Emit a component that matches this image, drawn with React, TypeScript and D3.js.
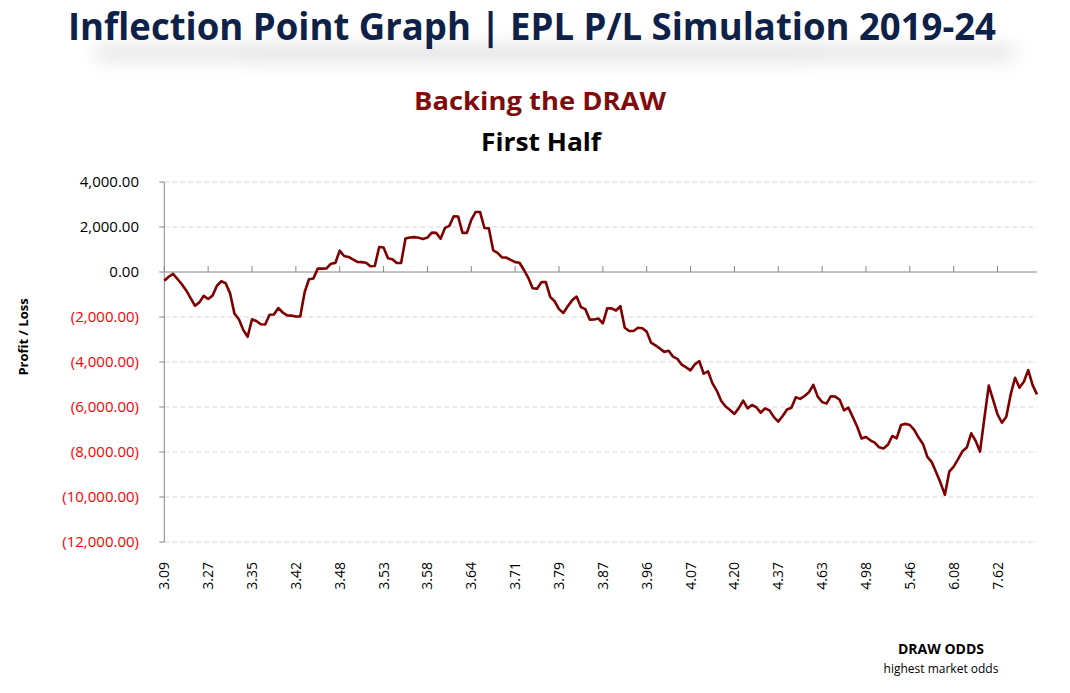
import React from "react";
import * as d3 from "d3";

const tickLabels = ["3.09","3.27","3.35","3.42","3.48","3.53","3.58","3.64","3.71","3.79","3.87","3.96","4.07","4.20","4.37","4.63","4.98","5.46","6.08","7.62"];
const tickEvery = 10;

const plValues = [
  -390,-210,-80,-310,-545,-820,-1165,-1500,-1350,-1060,
  -1200,-1050,-610,-410,-500,-950,-1850,-2100,-2570,-2880,
  -2100,-2180,-2320,-2330,-1900,-1890,-1600,-1800,-1930,-1940,
  -1975,-1980,-900,-320,-290,150,150,160,370,400,
  950,710,670,560,445,440,410,255,270,1110,
  1090,610,570,400,400,1490,1530,1550,1520,1470,
  1530,1750,1740,1480,1960,2050,2475,2470,1740,1740,
  2320,2670,2670,1955,1940,965,850,650,640,540,
  440,410,90,-260,-720,-740,-450,-445,-1110,-1300,
  -1650,-1820,-1520,-1260,-1090,-1560,-1650,-2115,-2110,-2070,
  -2280,-1615,-1615,-1710,-1520,-2480,-2620,-2620,-2480,-2500,
  -2650,-3140,-3260,-3400,-3550,-3500,-3760,-3860,-4120,-4240,
  -4370,-4100,-3960,-4520,-4420,-4950,-5280,-5730,-5980,-6130,
  -6310,-6050,-5720,-6060,-5910,-6010,-6250,-6060,-6150,-6450,
  -6650,-6400,-6110,-6030,-5570,-5640,-5510,-5340,-5020,-5540,
  -5780,-5850,-5520,-5540,-5680,-6150,-6030,-6450,-6880,-7400,
  -7330,-7480,-7580,-7790,-7840,-7680,-7290,-7390,-6800,-6750,
  -6800,-7020,-7360,-7640,-8220,-8450,-8900,-9370,-9900,-8870,
  -8650,-8320,-7970,-7800,-7170,-7500,-7980,-6500,-5050,-5680,
  -6330,-6700,-6430,-5440,-4700,-5140,-4880,-4360,-5030,-5440
];

const yMin = -12000;
const yMax = 4000;
const yStep = 2000;

const titleText = "Inflection Point Graph | EPL P/L Simulation 2019-24";
const subTitle1 = "Backing the DRAW";
const subTitle2 = "First Half";
const yAxisTitle = "Profit / Loss";
const xAxisTitle = "DRAW ODDS";
const xAxisSub = "highest market odds";

export default function App() {
  const W = 1070, H = 693;
  const left = 164.3, right = 1037, top = 182, bottom = 542;
  const x = d3.scaleLinear().domain([0, plValues.length - 1]).range([left, right]);
  const y = d3.scaleLinear().domain([yMin, yMax]).range([bottom, top]);
  const yTicks = d3.range(yMin, yMax + 1, yStep);
  const lineGen = d3.line<number>().x((_, i) => x(i)).y((d) => y(d));
  const f = d3.format(",.2f");
  const fmt = (v: number) => (v < 0 ? `(${f(-v)})` : f(v));
  const font = "'Open Sans', 'DejaVu Sans', sans-serif";

  return (
    <svg width={W} height={H} style={{ position: "absolute", left: 0, top: 0, background: "#fff" }}>
      <defs>
        <filter id="blurShadow" x="-10%" y="-300%" width="120%" height="700%">
          <feGaussianBlur stdDeviation="9" />
        </filter>
      </defs>
      {/* title shadow band */}
      <g filter="url(#blurShadow)" opacity={0.3}>
        <rect x={95} y={46} width={920} height={14} rx={7} fill="#9a9a9a" />
        <rect x={250} y={50} width={560} height={10} rx={5} fill="#8a8a8a" />
      </g>
      <text x={532} y={40} textAnchor="middle" fontFamily={font} fontWeight={700} fontSize={38}
        fill="#0e2148" textLength={928} lengthAdjust="spacingAndGlyphs">{titleText}</text>

      <text x={540} y={110} textAnchor="middle" fontFamily={font} fontWeight={700} fontSize={25}
        fill="#7f0c0c" textLength={252} lengthAdjust="spacingAndGlyphs">{subTitle1}</text>
      <text x={541} y={151} textAnchor="middle" fontFamily={font} fontWeight={700} fontSize={25}
        fill="#000" textLength={120} lengthAdjust="spacingAndGlyphs">{subTitle2}</text>

      {/* gridlines */}
      {yTicks.filter((t) => t !== 0).map((t) => (
        <line key={"g" + t} x1={left} x2={right} y1={y(t)} y2={y(t)} stroke="#d9d9d9" strokeWidth={1} strokeDasharray="5,3" />
      ))}
      {/* y axis */}
      <line x1={left} x2={left} y1={top} y2={bottom} stroke="#868686" strokeWidth={1} />
      {yTicks.map((t) => (
        <g key={"y" + t}>
          <line x1={left - 5} x2={left} y1={y(t)} y2={y(t)} stroke="#868686" strokeWidth={1} />
          <text x={139} y={y(t)} dy="0.35em" textAnchor="end" fontFamily={font} fontSize={15}
            fill={t < 0 ? "#ff0000" : "#000"}>{fmt(t)}</text>
        </g>
      ))}
      {/* x axis at zero */}
      <line x1={left} x2={right} y1={y(0)} y2={y(0)} stroke="#868686" strokeWidth={1} />
      {tickLabels.map((lab, k) => {
        const xi = x(k * tickEvery);
        return (
          <g key={"x" + k}>
            <line x1={xi} x2={xi} y1={y(0) - 6} y2={y(0)} stroke="#868686" strokeWidth={1} />
            <text transform={`translate(${xi + 5},${562}) rotate(-90)`} textAnchor="end"
              fontFamily={font} fontSize={14} fill="#000">{lab}</text>
          </g>
        );
      })}

      <path d={lineGen(plValues) || ""} fill="none" stroke="#7f0000" strokeWidth={2.6} strokeLinejoin="round" />

      <text transform="translate(28,337) rotate(-90)" textAnchor="middle" fontFamily={font} fontWeight={700}
        fontSize={13} fill="#000">{yAxisTitle}</text>
      <text x={941} y={654} textAnchor="middle" fontFamily={font} fontWeight={700} fontSize={14} fill="#000">{xAxisTitle}</text>
      <text x={941} y={673} textAnchor="middle" fontFamily={font} fontSize={12} fill="#000">{xAxisSub}</text>
    </svg>
  );
}
